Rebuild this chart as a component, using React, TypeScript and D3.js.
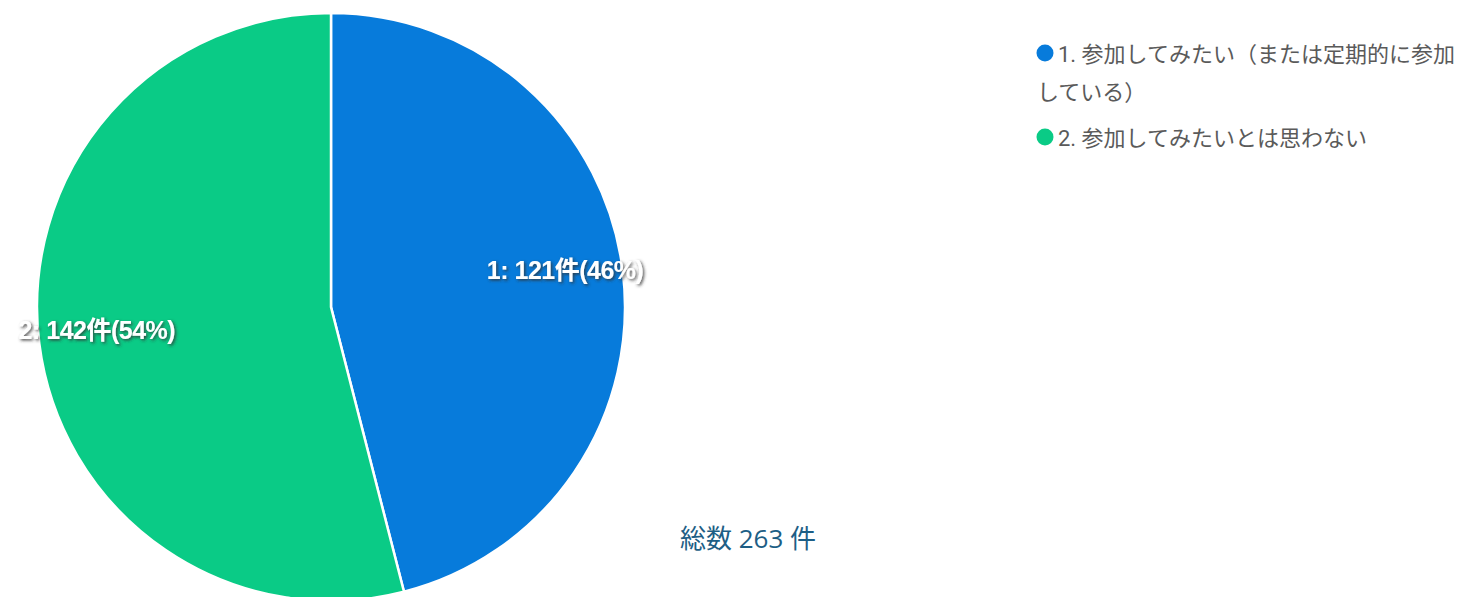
import { useMemo } from 'react'
import * as d3 from 'd3'

const WIDTH = 1461
const HEIGHT = 597
const CENTER = { x: 331, y: 307 }
const RADIUS = 294
const LABEL_RADIUS = 236

const CATEGORY_IDS = ['1', '2']
const CATEGORY_NAMES = [
  '1. 参加してみたい（または定期的に参加している）',
  '2. 参加してみたいとは思わない',
]
const LEGEND_LINES = [
  ['1. 参加してみたい（または定期的に参加', 'している）'],
  ['2. 参加してみたいとは思わない'],
]
const COUNTS = [121, 142]
const COLORS = ['#077bdb', '#0acb86']
const UNIT = '件'

type Slice = { id: string; name: string; count: number; color: string }

export default function App() {
  const slices: Slice[] = CATEGORY_IDS.map((id, i) => ({
    id,
    name: CATEGORY_NAMES[i],
    count: COUNTS[i],
    color: COLORS[i],
  }))
  const total = d3.sum(COUNTS)

  const arcs = useMemo(
    () =>
      d3
        .pie<Slice>()
        .sort(null)
        .value((d) => d.count)(slices),
    []
  )
  const arc = d3.arc<d3.PieArcDatum<Slice>>().innerRadius(0).outerRadius(RADIUS)
  const labelArc = d3
    .arc<d3.PieArcDatum<Slice>>()
    .innerRadius(LABEL_RADIUS)
    .outerRadius(LABEL_RADIUS)

  const legendY = d3.scaleOrdinal<number>().domain(CATEGORY_IDS).range([53, 137])

  return (
    <svg
      width={WIDTH}
      height={HEIGHT}
      viewBox={`0 0 ${WIDTH} ${HEIGHT}`}
      style={{ position: 'absolute', left: 0, top: 0, background: '#fff' }}
    >
      <defs>
        <filter id="label-shadow" x="-10%" y="-30%" width="120%" height="160%">
          <feDropShadow dx="1.5" dy="1.5" stdDeviation="1.5" floodColor="#333" floodOpacity="0.85" />
        </filter>
      </defs>

      <g transform={`translate(${CENTER.x} ${CENTER.y})`}>
        {arcs.map((a) => (
          <path key={a.data.id} d={arc(a) ?? undefined} fill={a.data.color} stroke="#fff" strokeWidth={2.5} />
        ))}
        {arcs.map((a) => {
          const [lx, ly] = labelArc.centroid(a)
          const pct = Math.round((a.data.count / total) * 100)
          return (
            <text
              key={a.data.id}
              x={lx}
              y={ly - 7}
              dy="0.36em"
              textAnchor="middle"
              fill="#fff"
              fontFamily="'Liberation Sans', Arial, 'Noto Sans CJK JP', sans-serif"
              fontWeight="bold"
              fontSize={25}
              letterSpacing={-0.5}
              filter="url(#label-shadow)"
            >
              {`${a.data.id}: ${a.data.count}${UNIT}(${pct}%)`}
            </text>
          )
        })}
      </g>

      <text
        x={748}
        y={548}
        textAnchor="middle"
        fill="#1d5e85"
        fontFamily="'Open Sans', 'Noto Sans CJK JP', sans-serif"
        fontSize={26}
      >
        {`総数 ${total} ${UNIT}`}
      </text>

      <g fontFamily="Roboto, 'Noto Sans CJK JP', sans-serif" fontSize={22} fill="#5a5a5a">
        {slices.map((s) => {
          const cy = legendY(s.id)
          return (
            <g key={s.id}>
              <circle cx={1045} cy={cy} r={8.5} fill={s.color} />
              {LEGEND_LINES[CATEGORY_IDS.indexOf(s.id)].map((line, li) => (
                <text key={li} x={li === 0 ? 1058 : 1037} y={cy + 9 + li * 38}>
                  {line}
                </text>
              ))}
            </g>
          )
        })}
      </g>
    </svg>
  )
}
